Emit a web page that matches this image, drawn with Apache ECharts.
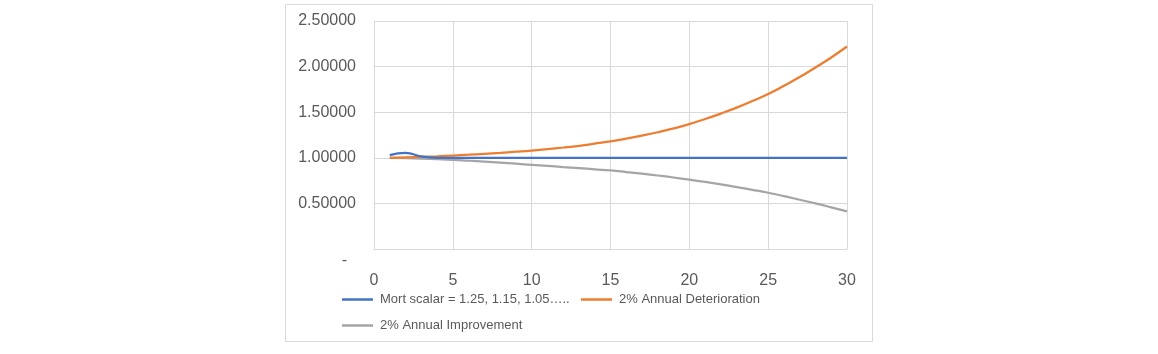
<!DOCTYPE html>
<html>
<head>
<meta charset="utf-8">
<script src="https://cdn.jsdelivr.net/npm/echarts@6/dist/echarts.min.js"></script>
<style>
  html, body { margin: 0; padding: 0; background: #fff; }
  #chart { width: 1158px; height: 354px; }
</style>
</head>
<body>
<div id="chart"></div>
<script>
// años de proyección 1..30
const years = [1, 2, 3, 4, 5, 6, 7, 8, 9, 10, 11, 12, 13, 14, 15,
  16, 17, 18, 19, 20, 21, 22, 23, 24, 25, 26, 27, 28, 29, 30];

const mortScalar = [1.03, 1.055, 1.015, 1.0, 1.0, 1.0, 1.0, 1.0, 1.0, 1.0,
  1.0, 1.0, 1.0, 1.0, 1.0, 1.0, 1.0, 1.0, 1.0, 1.0,
  1.0, 1.0, 1.0, 1.0, 1.0, 1.0, 1.0, 1.0, 1.0, 1.0];

const deterioration = [1.0, 1.004, 1.009, 1.016, 1.025, 1.034, 1.044, 1.055, 1.067, 1.08,
  1.096, 1.113, 1.132, 1.155, 1.18, 1.21, 1.243, 1.28, 1.322, 1.37,
  1.425, 1.485, 1.55, 1.622, 1.7, 1.79, 1.885, 1.99, 2.1, 2.22];

const improvement = [1.0, 0.996, 0.991, 0.985, 0.978, 0.968, 0.958, 0.947, 0.935, 0.923,
  0.911, 0.899, 0.887, 0.874, 0.861, 0.844, 0.826, 0.806, 0.784, 0.76,
  0.735, 0.708, 0.679, 0.649, 0.617, 0.58, 0.54, 0.5, 0.457, 0.412];

const seriesNames = ['Mort scalar = 1.25, 1.15, 1.05…..', '2% Annual Deterioration', '2% Annual Improvement'];
const seriesColors = ['#4472C4', '#ED7D31', '#A5A5A5'];

const font = '"Liberation Sans", Arial, sans-serif';
const pair = (vals) => years.map((x, i) => [x, vals[i]]);

const legendBase = {
  icon: 'rect',
  itemWidth: 31,
  itemHeight: 2.5,
  itemGap: 6,
  padding: 0,
  selectedMode: false,
  textStyle: { color: '#595959', fontSize: 13, fontFamily: font, padding: [0, 0, 0, 2] }
};

const chart = echarts.init(document.getElementById('chart'), null, { renderer: 'canvas' });

chart.setOption({
  animation: false,
  textStyle: { fontFamily: font },
  graphic: [{
    type: 'rect',
    shape: { x: 285.5, y: 4.5, width: 587, height: 337 },
    style: { fill: 'none', stroke: '#d9d9d9', lineWidth: 1 },
    silent: true
  }],
  grid: { left: 374, top: 21, right: 311, bottom: 105 },
  legend: [
    Object.assign({ data: [seriesNames[0]], left: 342, top: 293 }, legendBase),
    Object.assign({ data: [seriesNames[1]], left: 581, top: 293 }, legendBase),
    Object.assign({ data: [seriesNames[2]], left: 342, top: 319 }, legendBase)
  ],
  xAxis: {
    type: 'value',
    min: 0,
    max: 30,
    interval: 5,
    axisLine: { show: true, lineStyle: { color: '#d9d9d9' } },
    axisTick: { show: false },
    splitLine: { show: true, lineStyle: { color: '#d9d9d9' } },
    axisLabel: { color: '#595959', fontSize: 16, margin: 24 }
  },
  yAxis: {
    type: 'value',
    min: 0,
    max: 2.5,
    interval: 0.5,
    axisLine: { show: true, lineStyle: { color: '#d9d9d9' } },
    axisTick: { show: false },
    splitLine: { show: true, lineStyle: { color: '#d9d9d9' } },
    axisLabel: {
      color: '#595959',
      fontSize: 16,
      margin: 18,
      formatter: (v) => v === 0 ? '{z|-}' : v.toFixed(5),
      rich: { z: { color: '#595959', fontSize: 16, padding: [24, 9, 0, 0] } }
    }
  },
  series: [
    { name: seriesNames[0], data: pair(mortScalar) },
    { name: seriesNames[1], data: pair(deterioration) },
    { name: seriesNames[2], data: pair(improvement) }
  ].map((s, i) => Object.assign({
    type: 'line',
    smooth: true,
    symbol: 'none',
    z: 3 - i,
    color: seriesColors[i],
    lineStyle: { width: 2.25, color: seriesColors[i] }
  }, s))
});
</script>
</body>
</html>
